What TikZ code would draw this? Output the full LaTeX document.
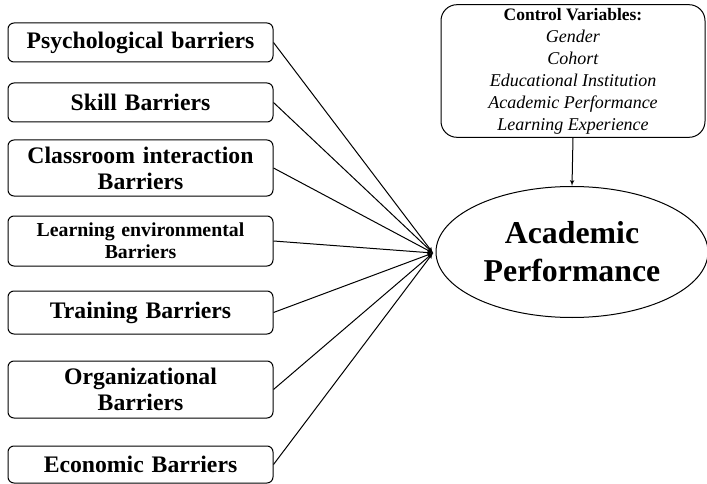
\documentclass[tikz,border=0pt]{standalone}
\usepackage{fontspec}
\setmainfont{Liberation Serif}
\usetikzlibrary{shapes, arrows}
\tikzstyle{barrier} = [rectangle, draw, rounded corners=6pt, text width=255pt,
    align=center, minimum width=265pt, inner sep=0pt, line width=1pt,
    font=\fontsize{23.7}{26}\selectfont\bfseries]
\tikzstyle{outcome} = [ellipse, draw, minimum width=272pt, minimum height=131pt,
    inner sep=0pt, align=center, line width=1pt,
    font=\fontsize{31.8}{38}\selectfont\bfseries]
\tikzstyle{control} = [rectangle, draw, rounded corners=16pt, minimum width=264pt,
    minimum height=132pt, align=center, line width=1pt,
    font=\fontsize{18}{22}\selectfont]
\tikzstyle{line} = [draw, line width=1pt, -latex']

\begin{document}
\begin{tikzpicture}[x=1pt, y=-1pt]
        \useasboundingbox (0,0) rectangle (707,484);
        % Place nodes
        \node [barrier, minimum height=39pt] (psych) at (140.5,42.5) {Psychological barriers};
        \node [barrier, minimum height=39pt] (skill) at (140.5,102.5) {Skill Barriers};
        \node [barrier, minimum height=56pt] (classroom) at (140.5,168) {Classroom interaction\\Barriers};
        \node [barrier, minimum height=50pt, font=\fontsize{19.8}{22}\selectfont\bfseries] (environment) at (140.5,241) {Learning environmental\\Barriers};
        \node [barrier, minimum height=43pt] (training) at (140.5,312.5) {Training Barriers};
        \node [barrier, minimum height=57pt] (organization) at (140.5,389.5) {Organizational\\Barriers};
        \node [barrier, minimum height=37pt] (economic) at (140.5,464.5) {Economic Barriers};
        \node [outcome] (performance) at (572,252) {Academic\\Performance};
        \node [control] (controls) at (573,71) {\textbf{\fontsize{17.5}{22}\selectfont Control Variables:}\\
            \textit{Gender}\\ \textit{Cohort}\\ \textit{Educational Institution}\\
            \textit{Academic Performance}\\ \textit{Learning Experience}};
        \coordinate (hub) at (433,253);
        % Draw edges
        \path [line] (psych.east) -- (hub);
        \path [line] (skill.east) -- (hub);
        \path [line] (classroom.east) -- (hub);
        \path [line] (environment.east) -- (hub);
        \path [line] (training.east) -- (hub);
        \path [line] (organization.east) -- (hub);
        \path [line] (economic.east) -- (hub);
        \path [line] (controls.south) -- (performance.north);
    \end{tikzpicture}
\end{document}
